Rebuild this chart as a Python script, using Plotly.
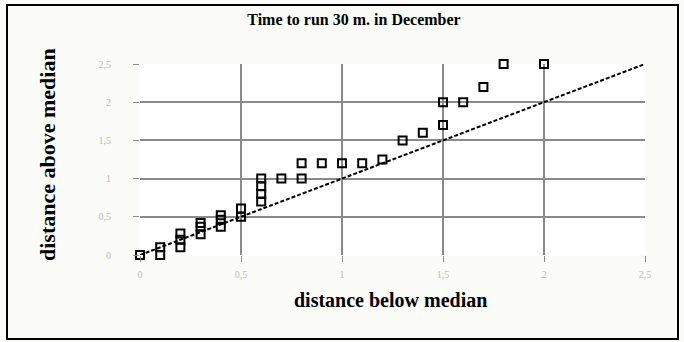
import plotly.graph_objects as go

below_median = [0, 0.1, 0.1, 0.2, 0.2, 0.2, 0.3, 0.3, 0.3, 0.4, 0.4, 0.4, 0.5, 0.5,
                0.6, 0.6, 0.6, 0.6, 0.7, 0.8, 0.8, 0.9, 1.0, 1.1, 1.2, 1.3, 1.4,
                1.5, 1.5, 1.6, 1.7, 1.8, 2.0]
above_median = [0, 0, 0.1, 0.1, 0.2, 0.28, 0.27, 0.37, 0.42, 0.37, 0.46, 0.52, 0.5, 0.61,
                0.7, 0.8, 0.9, 1.0, 1.0, 1.0, 1.2, 1.2, 1.2, 1.2, 1.25, 1.5, 1.6,
                1.7, 2.0, 2.0, 2.2, 2.5, 2.5]
line_x = [0, 2.5]
line_y = [0, 2.5]
tick_vals = [0, 0.5, 1, 1.5, 2, 2.5]

SERIF = "Liberation Serif, Times New Roman, serif"

fig = go.Figure()
fig.add_trace(go.Scatter(x=line_x, y=line_y, mode="lines",
                         line=dict(color="black", width=2, dash="4px,2px"),
                         showlegend=False, cliponaxis=False))
fig.add_trace(go.Scatter(x=below_median, y=above_median, mode="markers",
                         marker=dict(symbol="square-open", size=8, color="black",
                                     line=dict(width=2, color="black")),
                         showlegend=False, cliponaxis=False))

axis_common = dict(range=[0, 2.5], tickvals=tick_vals, showgrid=True,
                   gridcolor="#8a8a8a", gridwidth=1.5, zeroline=False, showline=False,
                   ticks="outside", ticklen=6, tickcolor="#8a8a8a",
                   tickfont=dict(family=SERIF, size=10, color="#bcbcbc"))

fig.update_layout(
    width=684, height=342,
    margin=dict(l=140, r=39, t=64, b=87),
    paper_bgcolor="#fbfbf7", plot_bgcolor="white",
    separators=",.",
    title=dict(text="<b>Time to run 30 m. in December</b>", x=354 / 684, xanchor="center",
               y=1 - 19 / 342, yanchor="middle", yref="container",
               font=dict(family=SERIF, size=16, color="black")),
    xaxis=dict(**axis_common, ticklabelstandoff=4),
    yaxis=dict(**axis_common, ticklabelstandoff=20),
    annotations=[
        dict(text="<b>distance below median</b>", xref="paper", yref="paper",
             x=(390 - 140) / 505, y=(255 - 300) / 191, xanchor="center", yanchor="middle",
             showarrow=False, font=dict(family=SERIF, size=20, color="black")),
        dict(text="<b>distance above median</b>", xref="paper", yref="paper",
             x=(47 - 140) / 505, y=(255 - 155) / 191, xanchor="center", yanchor="middle",
             textangle=-90, showarrow=False,
             font=dict(family=SERIF, size=22, color="black")),
    ],
    shapes=[dict(type="rect", xref="paper", yref="paper",
                 x0=(7 - 140) / 505, x1=(678 - 140) / 505,
                 y0=(255 - 339) / 191, y1=(255 - 5) / 191,
                 line=dict(color="black", width=2), fillcolor="rgba(0,0,0,0)",
                 layer="below")],
)

fig.write_html("out.html", config={"displayModeBar": False},
               post_script="document.body.style.margin='0';")
